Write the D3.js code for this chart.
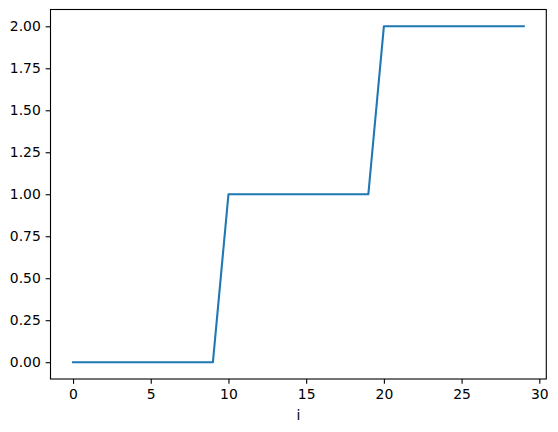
<!DOCTYPE html>
<html><head><meta charset="utf-8">
<script src="https://cdn.jsdelivr.net/npm/d3@7"></script>
<style>body{margin:0;background:#fff}svg{display:block}</style>
</head><body>
<svg id="c" width="558" height="432"></svg>
<script>
const xs = d3.range(0, 30);
const values = [0,0,0,0,0,0,0,0,0,0, 1,1,1,1,1,1,1,1,1,1, 2,2,2,2,2,2,2,2,2,2];
const xTicks = [0,5,10,15,20,25,30];
const yTicks = [0,0.25,0.5,0.75,1,1.25,1.5,1.75,2];
const xLabel = "i";

const L = 50.5, R = 546.3, T = 9.5, B = 379;
const svg = d3.select("#c");
const x = d3.scaleLinear().domain([-1.45, 30.45]).range([L, R]);
const y = d3.scaleLinear().domain([-0.1, 2.1]).range([B, T]);
const font = "DejaVu Sans, sans-serif";

svg.append("path")
  .datum(xs.map((d,i)=>[d, values[i]]))
  .attr("fill","none").attr("stroke","#1f77b4").attr("stroke-width",2.08)
  .attr("stroke-linecap","square").attr("stroke-linejoin","round")
  .attr("d", d3.line().x(d=>x(d[0])).y(d=>y(d[1])));

const gx = svg.append("g").attr("transform",`translate(0,${B})`)
  .call(d3.axisBottom(x).tickValues(xTicks).tickFormat(d3.format("d")).tickSize(4.86).tickPadding(4.86));
const gy = svg.append("g").attr("transform",`translate(${L},0)`)
  .call(d3.axisLeft(y).tickValues(yTicks).tickFormat(d3.format(".2f")).tickSize(4.86).tickPadding(4.86));
[gx, gy].forEach(g=>{
  g.select(".domain").remove();
  g.selectAll(".tick line").attr("stroke","#000").attr("stroke-width",1.1);
  g.selectAll(".tick text").attr("fill","#000").style("font-family",font).style("font-size","13.9px");
});

svg.append("rect").attr("x",L).attr("y",T).attr("width",R-L).attr("height",B-T)
  .attr("fill","none").attr("stroke","#000").attr("stroke-width",1.1);

svg.append("text").attr("x",(L+R)/2).attr("y",420).attr("text-anchor","middle")
  .style("font-family",font).style("font-size","13.9px").text(xLabel);
</script>
</body></html>
